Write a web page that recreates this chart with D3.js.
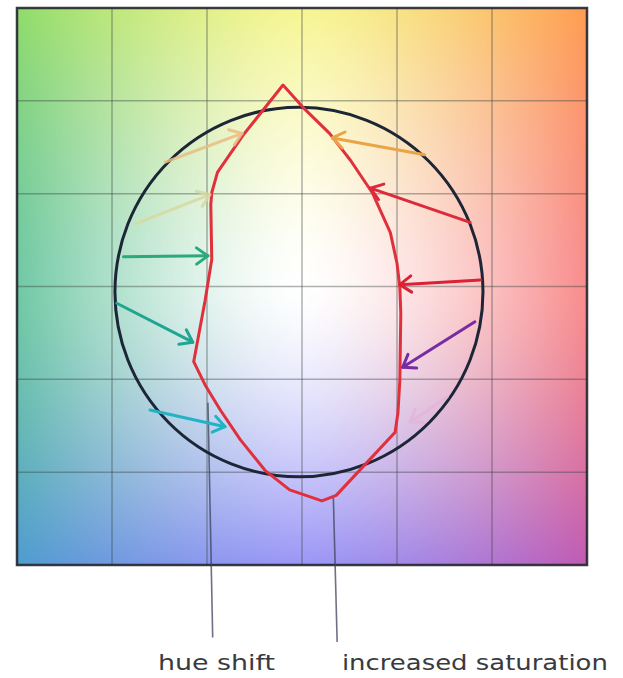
<!DOCTYPE html>
<html>
<head>
<meta charset="utf-8">
<script src="https://cdn.jsdelivr.net/npm/d3@7"></script>
<style>
  html,body{margin:0;padding:0;background:#fff;}
  svg{display:block;}
</style>
</head>
<body>
<svg id="chart" width="623" height="678"></svg>
<script>
// ---------- data (grid units: 6 x 6 cells) ----------
const gridTicks = [0, 1, 2, 3, 4, 5, 6];

// 3x3 control colours of the background colour field (rows top->bottom)
const fieldColors = [
  ["#90dc6a", "#f6f592", "#ff9c50"],
  ["#70c8a4", "#ffffff", "#f88c8c"],
  ["#4e9cd0", "#9a96f6", "#c05ab4"]
];

// original (black) gamut outline: centre and radii
const gamutCircle = { cx: 2.968, cy: 3.06, rx: 1.937, ry: 1.99 };

// shifted (red) gamut outline
const shiftedOutline = [
  [2.80, 0.83], [3.01, 1.07], [3.29, 1.35], [3.51, 1.64], [3.74, 1.99],
  [3.93, 2.42], [4.00, 2.75], [4.03, 3.01], [4.04, 3.29], [4.03, 4.01],
  [4.01, 4.36], [3.98, 4.57], [3.68, 4.90], [3.36, 5.25], [3.21, 5.31],
  [2.87, 5.19], [2.61, 4.98], [2.35, 4.65], [2.14, 4.33], [1.98, 4.06],
  [1.86, 3.81], [1.98, 3.15], [2.05, 2.71], [2.04, 2.12], [2.05, 1.99],
  [2.11, 1.77], [2.38, 1.37]
];

// shift arrows: from circle to red outline
const arrowFrom = [[1.56,1.66],[1.26,2.32],[1.12,2.68],[1.05,3.18],[1.40,4.33],[4.29,1.58],[4.77,2.31],[4.88,2.93],[4.82,3.38],[4.53,4.19]];
const arrowTo   = [[2.37,1.35],[2.03,2.01],[2.01,2.67],[1.85,3.60],[2.19,4.51],[3.32,1.40],[3.72,1.94],[4.03,2.98],[4.06,3.87],[4.14,4.46]];
const arrowColors = ["#e9bd82","#d7daa0","#2ba97d","#1fa592","#22b3c4","#e9a446","#dc2a3a","#dc2232","#772ca2","#e7b0d6"];

// annotation leaders and labels
const leaderFrom = [[2.01, 4.25], [3.33, 5.27]];
const leaderTo   = [[2.06, 6.78], [3.37, 6.83]];
const labelText  = ["hue shift", "increased saturation"];
const labelPos   = [[1.485, 7.13], [3.42, 7.13]];
const labelWidth = [117, 266];

// ---------- scales ----------
const svg = d3.select("#chart");
const x = d3.scaleLinear().domain([0, 6]).range([17, 587]);
const y = d3.scaleLinear().domain([0, 6]).range([8, 565]);

// ---------- background colour field ----------
(function drawField(){
  const x0 = x(0), y0 = y(0), w = Math.round(x(6) - x(0)), h = Math.round(y(6) - y(0));
  const cv = document.createElement("canvas");
  cv.width = w; cv.height = h;
  const ctx = cv.getContext("2d");
  const img = ctx.createImageData(w, h);
  const rgb = fieldColors.map(r => r.map(c => d3.rgb(c)));
  const center = rgb[1][1];
  for (let j = 0; j < h; j++) {
    const v = j / (h - 1);
    const row = v < 0.5 ? 0 : 2;
    let b = Math.abs(v - 0.5) * 2; b = Math.pow(b, 1.45);
    for (let i = 0; i < w; i++) {
      const u = i / (w - 1);
      const col = u < 0.5 ? 0 : 2;
      let a = Math.abs(u - 0.5) * 2; a = Math.pow(a, 1.45);
      const cH = rgb[1][col], cV = rgb[row][1], cC = rgb[row][col];
      const w00 = (1 - a) * (1 - b), w10 = a * (1 - b), w01 = (1 - a) * b, w11 = a * b;
      const k = (j * w + i) * 4;
      img.data[k]     = center.r * w00 + cH.r * w10 + cV.r * w01 + cC.r * w11;
      img.data[k + 1] = center.g * w00 + cH.g * w10 + cV.g * w01 + cC.g * w11;
      img.data[k + 2] = center.b * w00 + cH.b * w10 + cV.b * w01 + cC.b * w11;
      img.data[k + 3] = 255;
    }
  }
  ctx.putImageData(img, 0, 0);
  svg.append("image")
    .attr("x", x0).attr("y", y0).attr("width", w).attr("height", h)
    .attr("preserveAspectRatio", "none")
    .attr("href", cv.toDataURL());
})();

// ---------- grid ----------
const grid = svg.append("g").attr("class", "grid");
grid.selectAll("line.v").data(gridTicks.slice(1, -1)).join("line")
  .attr("x1", d => x(d)).attr("x2", d => x(d))
  .attr("y1", y(0)).attr("y2", y(6))
  .attr("stroke", "rgba(55,65,60,0.40)").attr("stroke-width", 1.5);
grid.selectAll("line.h").data(gridTicks.slice(1, -1)).join("line")
  .attr("y1", d => y(d)).attr("y2", d => y(d))
  .attr("x1", x(0)).attr("x2", x(6))
  .attr("stroke", "rgba(55,65,60,0.40)").attr("stroke-width", 1.5);
svg.append("rect")
  .attr("x", x(0)).attr("y", y(0))
  .attr("width", x(6) - x(0)).attr("height", y(6) - y(0))
  .attr("fill", "none").attr("stroke", "rgba(35,38,45,0.9)").attr("stroke-width", 2.5);

// ---------- leader lines ----------
svg.selectAll("line.leader").data(leaderFrom).join("line")
  .attr("class", "leader")
  .attr("x1", d => x(d[0])).attr("y1", d => y(d[1]))
  .attr("x2", (d, i) => x(leaderTo[i][0])).attr("y2", (d, i) => y(leaderTo[i][1]))
  .attr("stroke", "rgba(60,65,90,0.75)").attr("stroke-width", 1.6);

// ---------- black gamut circle ----------
svg.append("ellipse")
  .attr("cx", x(gamutCircle.cx)).attr("cy", y(gamutCircle.cy))
  .attr("rx", x(gamutCircle.cx + gamutCircle.rx) - x(gamutCircle.cx))
  .attr("ry", y(gamutCircle.cy + gamutCircle.ry) - y(gamutCircle.cy))
  .attr("fill", "none").attr("stroke", "#1d2636").attr("stroke-width", 3);

// ---------- red outline ----------
svg.append("path")
  .datum(shiftedOutline)
  .attr("d", d3.line().x(d => x(d[0])).y(d => y(d[1])).curve(d3.curveLinearClosed))
  .attr("fill", "none").attr("stroke", "#e0303c").attr("stroke-width", 3)
  .attr("stroke-linejoin", "round");

// ---------- arrows ----------
const arrows = svg.append("g").attr("class", "arrows");
arrowFrom.forEach((f, i) => {
  const t = arrowTo[i];
  const x1 = x(f[0]), y1 = y(f[1]), x2 = x(t[0]), y2 = y(t[1]);
  const ang = Math.atan2(y2 - y1, x2 - x1);
  const L = 14, spread = 0.62;
  const p1 = [x2 - L * Math.cos(ang - spread), y2 - L * Math.sin(ang - spread)];
  const p2 = [x2 - L * Math.cos(ang + spread), y2 - L * Math.sin(ang + spread)];
  const op = i === 9 ? 0.6 : (i === 0 || i === 1) ? 0.85 : 1;
  const g = arrows.append("g").attr("opacity", op);
  g.append("line")
    .attr("x1", x1).attr("y1", y1).attr("x2", x2).attr("y2", y2)
    .attr("stroke", arrowColors[i]).attr("stroke-width", 3).attr("stroke-linecap", "round");
  g.append("path")
    .attr("d", `M${p1[0]},${p1[1]}L${x2},${y2}L${p2[0]},${p2[1]}`)
    .attr("fill", "none").attr("stroke", arrowColors[i]).attr("stroke-width", 3)
    .attr("stroke-linecap", "round").attr("stroke-linejoin", "round");
});

// ---------- labels ----------
svg.selectAll("text.label").data(labelText).join("text")
  .attr("class", "label")
  .attr("x", (d, i) => x(labelPos[i][0]))
  .attr("y", (d, i) => y(labelPos[i][1]))
  .attr("textLength", (d, i) => labelWidth[i])
  .attr("lengthAdjust", "spacingAndGlyphs")
  .attr("font-family", "'DejaVu Sans', sans-serif")
  .attr("font-size", 22)
  .attr("fill", "#3a3a3e")
  .text(d => d);
</script>
</body>
</html>
